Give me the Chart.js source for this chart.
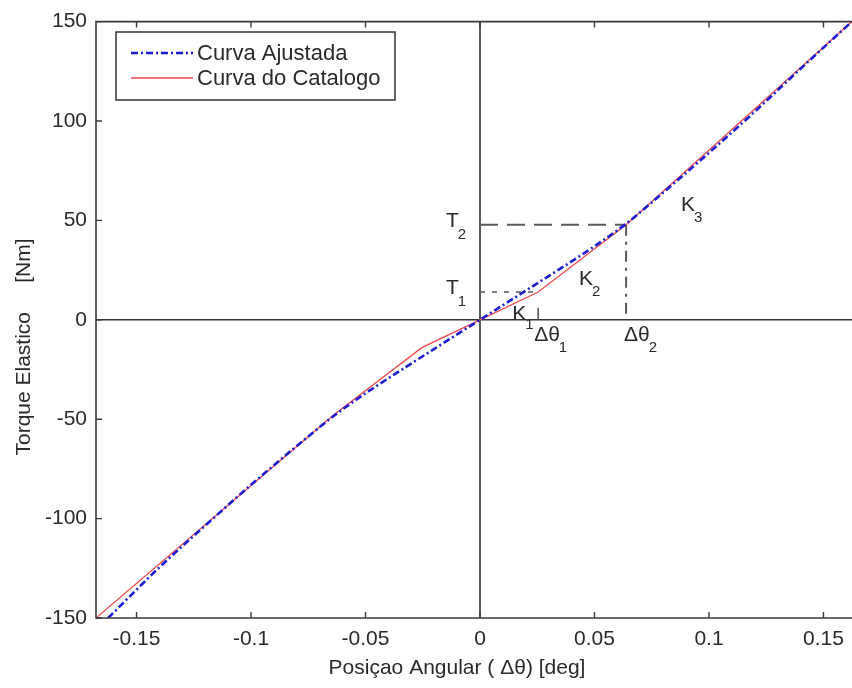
<!DOCTYPE html>
<html>
<head>
<meta charset="utf-8">
<script src="https://cdn.jsdelivr.net/npm/chart.js@4.4.1/dist/chart.umd.min.js"></script>
<style>
  html, body { margin: 0; padding: 0; background: #fff; overflow: hidden; }
  #wrap { position: relative; width: 872px; height: 688px; }
</style>
</head>
<body>
<div id="wrap"><canvas id="torque"></canvas></div>
<script>
// --- data ---
const ANGLE_FIT = [-0.1624, -0.14, -0.12, -0.1, -0.08, -0.0638, -0.05, -0.03, -0.015, 0,
                   0.015, 0.03, 0.05, 0.0638, 0.08, 0.1, 0.12, 0.14, 0.1624];
const TORQUE_FIT = [-150, -124.5, -103.5, -83, -63.5, -48.3, -37, -22, -11, 0,
                    11, 22, 37, 48.3, 64, 84, 104.7, 126.3, 150];

const ANGLE_CAT = [-0.1677, -0.0638, -0.0254, 0, 0.0254, 0.0638, 0.1624];
const TORQUE_CAT = [-150, -47.8, -14, 0, 14, 47.8, 150];

// break points of the catalog curve
const DTHETA_1 = 0.0254, T_1 = 14;
const DTHETA_2 = 0.0638, T_2 = 47.8;

const X_TICKS = [-0.15, -0.1, -0.05, 0, 0.05, 0.1, 0.15];
const X_TICK_LABELS = ['-0.15', '-0.1', '-0.05', '0', '0.05', '0.1', '0.15'];
const Y_TICKS = [-150, -100, -50, 0, 50, 100, 150];
const Y_TICK_LABELS = ['-150', '-100', '-50', '0', '50', '100', '150'];

const LEGEND_LABELS = ['Curva Ajustada', 'Curva do Catalogo'];
const X_TITLE = 'Posiçao Angular ( Δθ) [deg]';
const Y_TITLE = 'Torque Elastico     [Nm]';

const FONT = "'Liberation Sans', Arial, Helvetica, sans-serif";
const INK = '#2a2a2a';

const toPoints = (xs, ys) => xs.map((x, i) => ({ x, y: ys[i] }));

// frame, inner ticks, axis cross, legend and labels
const axesFrame = {
  id: 'axesFrame',
  beforeDatasetsDraw(chart) {
    const { ctx, chartArea: a, scales: { x, y } } = chart;
    ctx.save();
    ctx.strokeStyle = '#333';
    ctx.lineWidth = 1.6;
    ctx.beginPath();
    const x0 = x.getPixelForValue(0), y0 = y.getPixelForValue(0);
    ctx.moveTo(x0, a.top); ctx.lineTo(x0, a.bottom);
    ctx.moveTo(a.left, y0); ctx.lineTo(a.right, y0);
    ctx.stroke();
    ctx.restore();
  },
  afterDatasetsDraw(chart) {
    const { ctx, chartArea: a, scales: { x, y } } = chart;
    ctx.save();
    ctx.strokeStyle = '#3a3a3a';
    ctx.lineWidth = 1.6;
    ctx.beginPath();
    ctx.moveTo(a.right, a.top); ctx.lineTo(a.left, a.top);
    ctx.lineTo(a.left, a.bottom); ctx.lineTo(a.right, a.bottom);
    ctx.stroke();

    ctx.lineWidth = 1.4;
    ctx.beginPath();
    X_TICKS.forEach(v => {
      const px = x.getPixelForValue(v);
      ctx.moveTo(px, a.bottom); ctx.lineTo(px, a.bottom - 6);
      ctx.moveTo(px, a.top); ctx.lineTo(px, a.top + 6);
    });
    Y_TICKS.forEach(v => {
      const py = y.getPixelForValue(v);
      ctx.moveTo(a.left, py); ctx.lineTo(a.left + 6, py);
      ctx.moveTo(a.right, py); ctx.lineTo(a.right - 6, py);
    });
    ctx.stroke();

    // labels with subscripts, anchored on the break points
    const sub = (main, s, px, py, dy) => {
      ctx.font = '21px ' + FONT;
      ctx.fillText(main, px, py);
      const w = ctx.measureText(main).width;
      ctx.font = '15px ' + FONT;
      ctx.fillText(s, px + w - 1, py + dy);
    };
    ctx.fillStyle = INK;
    ctx.textAlign = 'left';
    ctx.textBaseline = 'alphabetic';
    const ox = x.getPixelForValue(0);
    sub('T', '2', ox - 34, y.getPixelForValue(T_2) + 2, 12);
    sub('T', '1', ox - 34, y.getPixelForValue(T_1) + 2, 12);
    sub('K', '1', x.getPixelForValue(DTHETA_1) - 26, y.getPixelForValue(0), 9);
    sub('K', '2', x.getPixelForValue(DTHETA_2) - 47, y.getPixelForValue(T_2) + 60, 11);
    sub('K', '3', x.getPixelForValue(DTHETA_2) + 55, y.getPixelForValue(T_2) - 14, 11);
    sub('Δθ', '1', x.getPixelForValue(DTHETA_1) - 4, y.getPixelForValue(0) + 21, 11);
    sub('Δθ', '2', x.getPixelForValue(DTHETA_2) - 2, y.getPixelForValue(0) + 21, 11);

    // axis titles
    ctx.font = '21px ' + FONT;
    ctx.textAlign = 'center';
    ctx.textBaseline = 'middle';
    ctx.fillText(X_TITLE, 457, 668);
    ctx.save();
    ctx.translate(24, 347);
    ctx.rotate(-Math.PI / 2);
    ctx.fillText(Y_TITLE, 0, 0);
    ctx.restore();

    // legend
    const lx = 116, ly = 32, lw = 279, lh = 68;
    ctx.fillStyle = '#fff';
    ctx.fillRect(lx, ly, lw, lh);
    ctx.strokeStyle = '#333';
    ctx.lineWidth = 1.5;
    ctx.strokeRect(lx, ly, lw, lh);
    chart.data.datasets.slice(0, 2).forEach((ds, i) => {
      const ry = ly + 21 + i * 25;
      ctx.save();
      ctx.strokeStyle = ds.borderColor;
      ctx.lineWidth = ds.borderWidth;
      ctx.setLineDash(ds.borderDash || []);
      ctx.beginPath();
      ctx.moveTo(lx + 15, ry); ctx.lineTo(lx + 77, ry);
      ctx.stroke();
      ctx.restore();
      ctx.fillStyle = INK;
      ctx.font = '22px ' + FONT;
      ctx.textAlign = 'left';
      ctx.textBaseline = 'middle';
      ctx.fillText(ds.label, lx + 81, ry + 1);
    });
    ctx.restore();
  }
};

const guide = (pts, dash, width) => ({
  label: '',
  data: pts,
  borderColor: '#5a5a5a',
  borderWidth: width,
  borderDash: dash,
  pointRadius: 0,
  showLine: true
});

new Chart(document.getElementById('torque'), {
  type: 'scatter',
  data: {
    datasets: [
      {
        label: LEGEND_LABELS[0],
        data: toPoints(ANGLE_FIT, TORQUE_FIT),
        borderColor: '#1c1cd2',
        borderWidth: 2.6,
        borderDash: [7, 3, 2, 3],
        pointRadius: 0,
        showLine: true,
        cubicInterpolationMode: 'monotone'
      },
      {
        label: LEGEND_LABELS[1],
        data: toPoints(ANGLE_CAT, TORQUE_CAT),
        borderColor: '#ee4a4a',
        borderWidth: 1.3,
        pointRadius: 0,
        showLine: true
      },
      guide([{ x: 0, y: T_2 }, { x: DTHETA_2, y: T_2 }], [18, 9], 2),
      guide([{ x: DTHETA_2, y: T_2 }, { x: DTHETA_2, y: 0 }], [11, 6, 3, 6], 2),
      guide([{ x: 0, y: T_1 }, { x: DTHETA_1, y: T_1 }], [5, 7], 1.6),
      guide([{ x: DTHETA_1, y: 0 }, { x: DTHETA_1, y: T_1 }], [12, 30], 1.6)
    ]
  },
  options: {
    responsive: true,
    maintainAspectRatio: false,
    animation: false,
    layout: { padding: { top: 18, right: 8, left: 0, bottom: 0 } },
    plugins: { legend: { display: false }, tooltip: { enabled: false } },
    scales: {
      x: {
        type: 'linear',
        min: -0.1677,
        max: 0.1677,
        afterBuildTicks: s => { s.ticks = X_TICKS.map(v => ({ value: v })); },
        afterFit: s => { s.height = 70; },
        grid: { display: false, drawTicks: false },
        border: { display: false },
        ticks: {
          color: INK,
          font: { family: FONT, size: 21 },
          padding: 9,
          maxRotation: 0,
          callback: (v, i) => X_TICK_LABELS[i]
        }
      },
      y: {
        type: 'linear',
        min: -150,
        max: 150,
        afterBuildTicks: s => { s.ticks = Y_TICKS.map(v => ({ value: v })); },
        afterFit: s => { s.width = 96; },
        grid: { display: false, drawTicks: false },
        border: { display: false },
        ticks: {
          color: INK,
          font: { family: FONT, size: 21 },
          padding: 9,
          callback: (v, i) => Y_TICK_LABELS[i]
        }
      }
    }
  },
  plugins: [axesFrame]
});
</script>
</body>
</html>
